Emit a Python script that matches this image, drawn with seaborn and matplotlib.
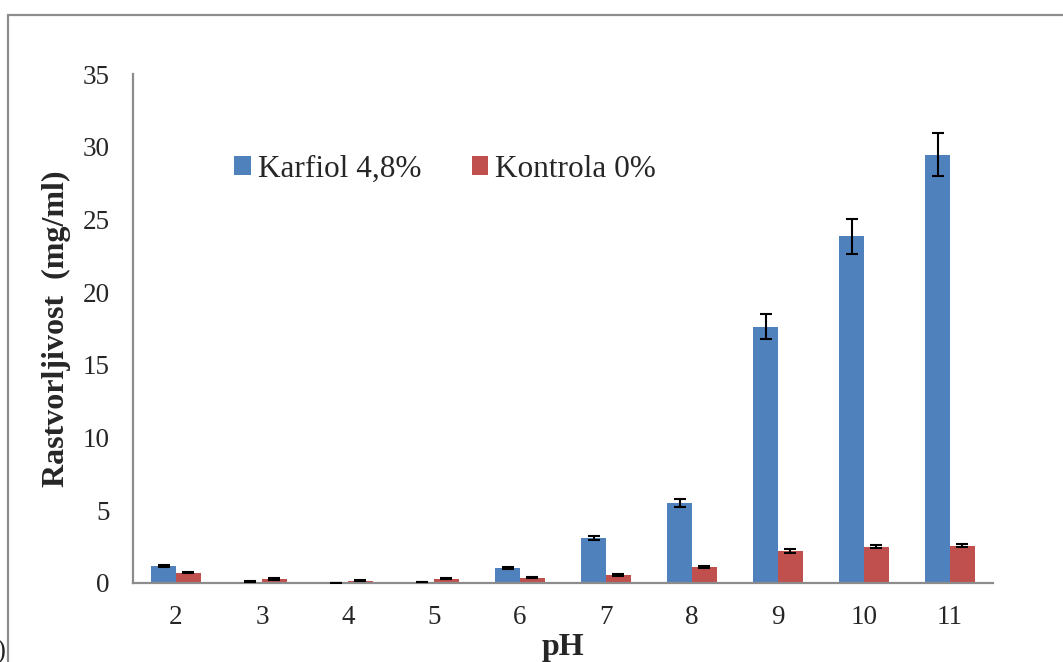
import matplotlib
matplotlib.use("Agg")
import matplotlib.pyplot as plt
import seaborn as sns
import pandas as pd
import numpy as np
from matplotlib.patches import Rectangle

# ---- data ----
ph_labels = ["2", "3", "4", "5", "6", "7", "8", "9", "10", "11"]
karfiol = [1.19, 0.10, 0.02, 0.08, 1.03, 3.10, 5.50, 17.63, 23.85, 29.45]
karfiol_err = [0.07, 0.03, 0.0, 0.0, 0.06, 0.15, 0.30, 0.87, 1.20, 1.48]
kontrola = [0.71, 0.28, 0.15, 0.30, 0.35, 0.55, 1.08, 2.20, 2.48, 2.57]
kontrola_err = [0.05, 0.04, 0.03, 0.04, 0.04, 0.05, 0.06, 0.12, 0.10, 0.10]
series_names = ["Karfiol 4,8%", "Kontrola 0%"]
colors = ["#4F81BD", "#C0504D"]

df = pd.DataFrame({
    "pH": ph_labels * 2,
    "val": karfiol + kontrola,
    "series": [series_names[0]] * len(ph_labels) + [series_names[1]] * len(ph_labels),
})

sns.set_style("white")
plt.rcParams["font.family"] = ["Liberation Serif", "DejaVu Serif"]
FS_TICK = 19.5
FS_LAB = 23
FS_LEG = 22.5

fig = plt.figure(figsize=(10.63, 6.62), dpi=100)
ax = fig.add_axes([133 / 1063, 1 - 583 / 662, 860 / 1063, 509 / 662])

sns.barplot(data=df, x="pH", y="val", hue="series", order=ph_labels,
            hue_order=series_names, palette=colors, width=0.57,
            saturation=1, errorbar=None, ax=ax, linewidth=0)

# error bars at the centers of the drawn bars
errs = [karfiol_err, kontrola_err]
for cont, err in zip(ax.containers, errs):
    xs = [p.get_x() + p.get_width() / 2 for p in cont.patches]
    hs = [p.get_height() for p in cont.patches]
    ax.errorbar(xs, hs, yerr=err, fmt="none", ecolor="black",
                elinewidth=1.5, capsize=4.5, capthick=1.5, zorder=5)

ax.set_ylim(0, 35)
ax.set_yticks(np.arange(0, 36, 5))
ax.set_xlim(-0.5, len(ph_labels) - 0.5)

for s in ["top", "right"]:
    ax.spines[s].set_visible(False)
for s in ["left", "bottom"]:
    ax.spines[s].set_color("#8c8c8c")
    ax.spines[s].set_linewidth(1.6)

ax.tick_params(axis="x", length=0, pad=16, labelsize=FS_TICK)
ax.tick_params(axis="y", length=0, pad=17, labelsize=FS_TICK)

ax.set_xlabel("pH", fontsize=FS_LAB, fontweight="bold")
ax.xaxis.label.set_va("center")
ax.xaxis.set_label_coords(0.5, -0.126)
ax.set_ylabel("Rastvorljivost  (mg/ml)", fontsize=FS_LAB, fontweight="bold")
ax.yaxis.label.set_va("center")
ax.yaxis.set_label_coords(-0.089, 0.5)

ax.legend(frameon=False, fontsize=FS_LEG, ncol=2, loc="center left",
          bbox_to_anchor=(0.118, 0.813), borderaxespad=0, borderpad=0,
          handlelength=0.53, handleheight=0.53, handletextpad=0.23,
          columnspacing=1.6)

# outer frame of the chart area (cut off at right and bottom)
fig.patches.append(Rectangle((8 / 1063, -0.2), 1.3, 0.2 + 1 - 15 / 662,
                             transform=fig.transFigure, fill=False,
                             edgecolor="#8c8c8c", linewidth=1.6))
fig.text(-0.004, 1 - 652 / 662, ")", fontsize=FS_TICK, ha="left", va="center")

fig.savefig("out.png", dpi=100)
